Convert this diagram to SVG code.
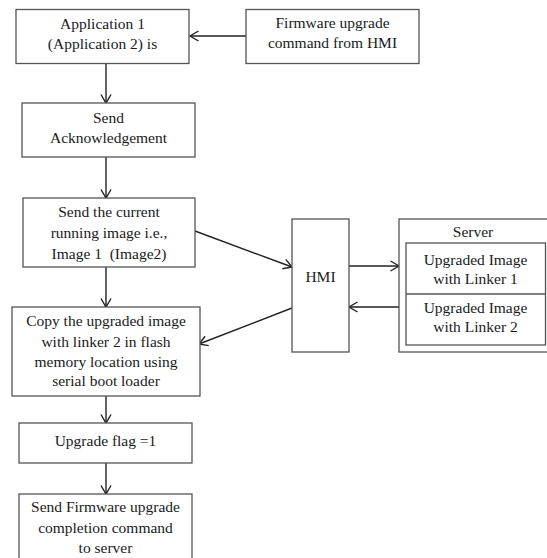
<svg xmlns="http://www.w3.org/2000/svg" width="547" height="558" viewBox="0 0 547 558">
<style>
  .box{fill:#fff;stroke:#555;stroke-width:1.3}
  .t{font-family:"Liberation Serif","Times New Roman",serif;font-size:15.5px;fill:#1a1a1a;text-anchor:middle}
  .c{stroke:#222;stroke-width:1.4;fill:none}
</style>
<defs>
  <marker id="ah" markerUnits="userSpaceOnUse" markerWidth="12" markerHeight="12" refX="10" refY="6" orient="auto">
    <path d="M1.5,1 L10,6 L1.5,11" fill="none" stroke="#222" stroke-width="1.4"/>
  </marker>
</defs>
<rect width="547" height="558" fill="#fff"/>
<g id="connectors">
  <line class="c" x1="246" y1="36" x2="190" y2="36" marker-end="url(#ah)"/>
  <line class="c" x1="106" y1="63.5" x2="106" y2="103" marker-end="url(#ah)"/>
  <line class="c" x1="106" y1="157" x2="106" y2="198" marker-end="url(#ah)"/>
  <line class="c" x1="106" y1="267" x2="106" y2="307" marker-end="url(#ah)"/>
  <line class="c" x1="106" y1="396" x2="106" y2="423" marker-end="url(#ah)"/>
  <line class="c" x1="106" y1="463" x2="106" y2="494" marker-end="url(#ah)"/>
  <line class="c" x1="195" y1="231" x2="292" y2="267" marker-end="url(#ah)"/>
  <line class="c" x1="292" y1="308" x2="199" y2="344" marker-end="url(#ah)"/>
  <line class="c" x1="349" y1="266" x2="399" y2="266" marker-end="url(#ah)"/>
  <line class="c" x1="399" y1="307" x2="349" y2="307" marker-end="url(#ah)"/>
</g>
<g id="app1">
  <rect class="box" x="16" y="9.5" width="173" height="54"/>
  <text class="t" x="102.5" y="29">Application 1</text>
  <text class="t" x="102.5" y="49">(Application 2) is</text>
</g>
<g id="fwcmd">
  <rect class="box" x="246" y="9.5" width="173" height="54"/>
  <text class="t" x="332.5" y="28">Firmware upgrade</text>
  <text class="t" x="332.5" y="48">command from HMI</text>
</g>
<g id="ack">
  <rect class="box" x="22" y="103" width="173" height="54"/>
  <text class="t" x="108.5" y="123">Send</text>
  <text class="t" x="108.5" y="143">Acknowledgement</text>
</g>
<g id="current">
  <rect class="box" x="23" y="198" width="172" height="69"/>
  <text class="t" x="109" y="217">Send the current</text>
  <text class="t" x="109" y="238">running image i.e.,</text>
  <text class="t" x="109" y="259">Image 1&#160; (Image2)</text>
</g>
<g id="copy">
  <rect class="box" x="12" y="307" width="188" height="89"/>
  <text class="t" x="106" y="326">Copy the upgraded image</text>
  <text class="t" x="106" y="347">with linker 2 in flash</text>
  <text class="t" x="106" y="367">memory location using</text>
  <text class="t" x="106" y="386">serial boot loader</text>
</g>
<g id="flag">
  <rect class="box" x="19" y="423" width="173" height="40"/>
  <text class="t" x="105.5" y="446">Upgrade flag =1</text>
</g>
<g id="complete">
  <rect class="box" x="19" y="494" width="173" height="70"/>
  <text class="t" x="105.5" y="512">Send Firmware upgrade</text>
  <text class="t" x="105.5" y="533">completion command</text>
  <text class="t" x="105.5" y="553">to server</text>
</g>
<g id="hmi">
  <rect class="box" x="292" y="219" width="57" height="133"/>
  <text class="t" x="320.5" y="282">HMI</text>
</g>
<g id="server">
  <rect class="box" x="399" y="219" width="152" height="133"/>
  <text class="t" x="473" y="237">Server</text>
  <rect class="box" x="406" y="243" width="139.5" height="102"/>
  <line x1="406" y1="294" x2="545.5" y2="294" stroke="#555" stroke-width="1.3"/>
  <text class="t" x="475.5" y="265">Upgraded Image</text>
  <text class="t" x="475.5" y="284">with Linker 1</text>
  <text class="t" x="475.5" y="313">Upgraded Image</text>
  <text class="t" x="475.5" y="332">with Linker 2</text>
</g>
</svg>
